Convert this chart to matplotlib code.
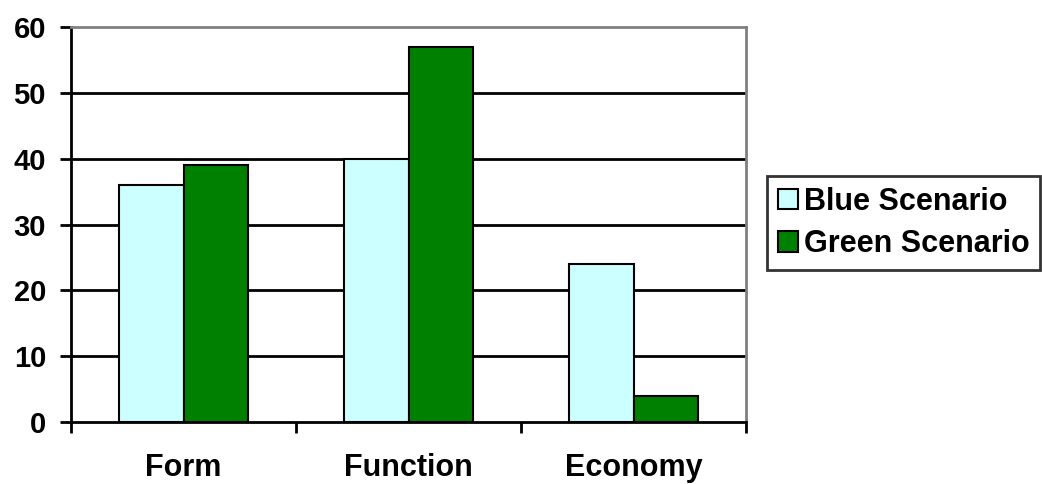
import matplotlib
matplotlib.use("Agg")
import matplotlib.pyplot as plt
import numpy as np
from matplotlib.patches import Patch

categories = ["Form", "Function", "Economy"]
series_names = ["Blue Scenario", "Green Scenario"]
blue_values = [36, 40, 24]
green_values = [39, 57, 4]
yticks = [0, 10, 20, 30, 40, 50, 60]

blue_color = "#ccffff"
green_color = "#008000"

plt.rcParams['font.family'] = ['Liberation Sans', 'DejaVu Sans']
plt.rcParams['font.weight'] = 'bold'

fig = plt.figure(figsize=(10.42, 4.84), dpi=100)
ax = fig.add_axes([71/1042, 62/484, (746-71)/1042, (422-27)/484])

x = np.arange(len(categories))
w = 0.287
ax.bar(x - w/2, blue_values, w, color=blue_color, edgecolor="black", linewidth=1.5, zorder=3)
ax.bar(x + w/2, green_values, w, color=green_color, edgecolor="black", linewidth=1.5, zorder=3)

ax.set_xlim(-0.5, len(categories) - 0.5)
ax.set_ylim(0, 60)
ax.set_yticks(yticks)
ax.set_yticklabels([str(v) for v in yticks], fontsize=21, fontweight='bold')
for v in yticks[1:-1]:
    ax.axhline(v, color="black", linewidth=2, zorder=1)

ax.set_xticks(np.arange(len(categories) + 1) - 0.5)
ax.set_xticklabels([])
ax.set_xticks(x, minor=True)
ax.set_xticklabels(categories, minor=True, fontsize=22, fontweight='bold')
ax.tick_params(axis='x', which='minor', length=0, pad=22)
ax.tick_params(axis='x', which='major', length=8, width=2, direction='out')
ax.tick_params(axis='y', length=8, width=2, direction='out', pad=10)

for s in ['left', 'bottom']:
    ax.spines[s].set_color('black')
    ax.spines[s].set_linewidth(2)
for s in ['top', 'right']:
    ax.spines[s].set_color('#808080')
    ax.spines[s].set_linewidth(2)

handles = [Patch(facecolor=blue_color, edgecolor='black', linewidth=1.5),
           Patch(facecolor=green_color, edgecolor='black', linewidth=1.5)]
leg = fig.legend(handles, series_names, loc='center left',
                 bbox_to_anchor=(767/1042, 1 - 223/484),
                 prop={'size': 22, 'weight': 'bold'},
                 frameon=True, fancybox=False, edgecolor='black',
                 handlelength=0.65, handleheight=0.65, handletextpad=0.2,
                 borderpad=0.35, labelspacing=0.4, borderaxespad=0)
leg.get_frame().set_linewidth(2)

fig.savefig("out.png", dpi=100)
